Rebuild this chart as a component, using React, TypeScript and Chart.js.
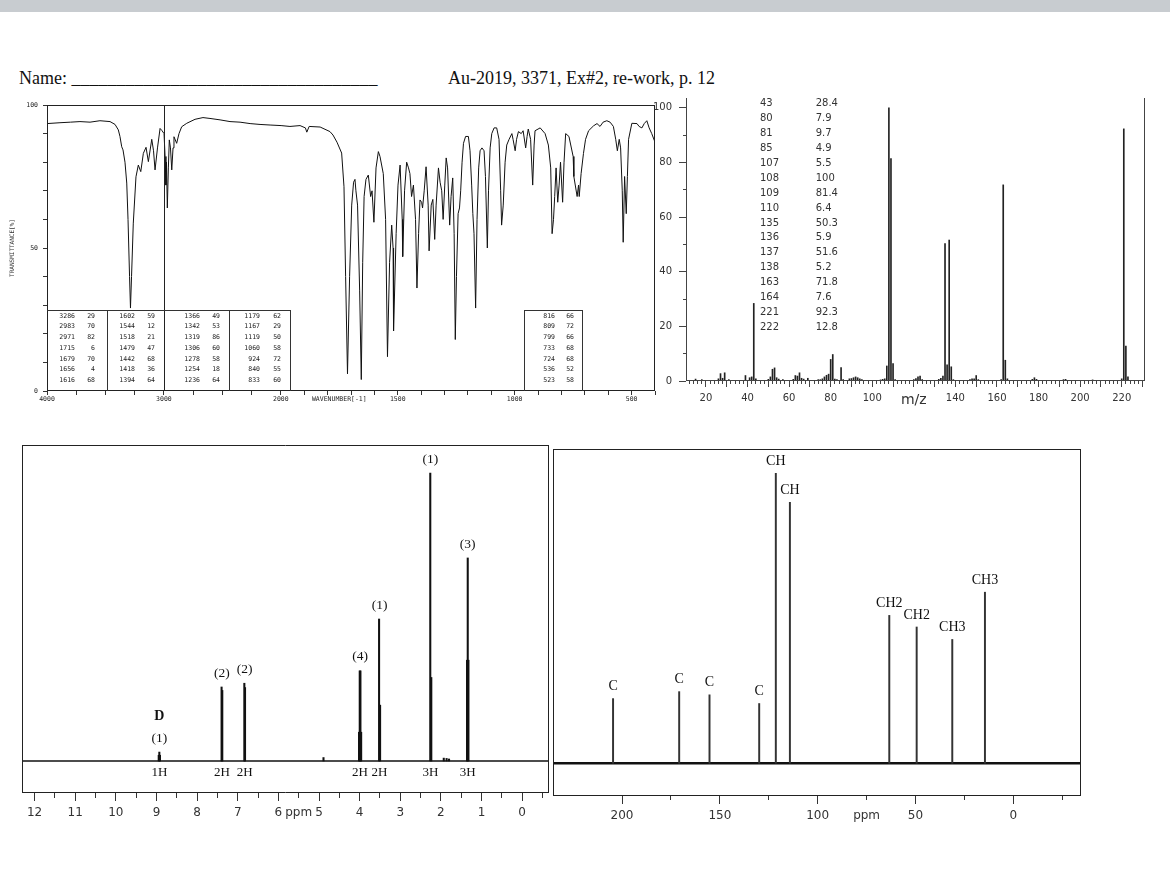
import React, { useEffect, useRef } from "react";
import { Chart, registerables } from "chart.js";

Chart.register(...registerables);

/* ================= IR spectrum ================= */
// [wavenumber (cm-1), transmittance (%)]
const irTrace: [number, number][] = [
  [4000, 93.5], [3889, 93.8], [3800, 94.0], [3718, 94.2], [3632, 94.0], [3547, 94.5], [3461, 94.2],
  [3418, 93.2], [3390, 91.3], [3376, 89], [3361, 85.4], [3350, 84.3], [3333, 80], [3318, 72.7],
  [3307, 60], [3294, 40], [3286, 29], [3277, 40], [3262, 58.7], [3239, 74.9], [3219, 79], [3198, 76.7],
  [3176, 83.1], [3153, 85.2], [3133, 80.2], [3104, 88], [3089, 84], [3076, 77.3], [3055, 85],
  [3033, 91.8], [3016, 91], [2999, 90], [2990, 82], [2983, 72], [2978, 80], [2971, 64], [2962, 78],
  [2954, 87.8], [2944, 85], [2933, 77.3], [2922, 85], [2914, 88.9], [2891, 86.6], [2871, 90],
  [2848, 92.4], [2805, 93.6], [2734, 95], [2666, 95.6], [2606, 95.3], [2520, 94.8], [2435, 94.2],
  [2349, 94.0], [2263, 93.5], [2178, 93.2], [2092, 93], [1999, 92.8], [1961, 92.5], [1918, 92.8],
  [1895, 92], [1889, 90.5], [1879, 92.5], [1832, 92.3], [1790, 90.7], [1777, 89.5], [1760, 87],
  [1740, 83.2], [1730, 71.4], [1723, 40], [1715, 6], [1706, 40], [1697, 65], [1689, 73], [1683, 74],
  [1679, 70], [1672, 65], [1663, 35], [1656, 4], [1650, 45], [1644, 68], [1636, 74], [1626, 75.5],
  [1616, 68], [1610, 70], [1602, 59], [1593, 78], [1583, 83.7], [1576, 82], [1562, 76], [1552, 60],
  [1544, 12], [1535, 45], [1526, 58], [1520, 50], [1518, 21], [1507, 55], [1499, 72], [1490, 79],
  [1481, 60], [1479, 47], [1471, 70], [1462, 80], [1454, 78], [1448, 76], [1441, 68], [1433, 72],
  [1424, 60], [1418, 36], [1411, 55], [1405, 66.8], [1398, 66], [1394, 64], [1387, 70], [1379, 78.4],
  [1370, 65], [1366, 49], [1357, 65], [1350, 67], [1342, 53], [1336, 65], [1326, 78], [1319, 73],
  [1312, 70], [1306, 60], [1299, 72], [1293, 81.5], [1287, 78], [1278, 58], [1272, 68], [1265, 74.5],
  [1259, 55], [1254, 18], [1249, 40], [1242, 62], [1236, 64], [1231, 70], [1225, 80], [1219, 86.6],
  [1210, 89], [1198, 89], [1191, 84], [1184, 72], [1179, 62], [1174, 55], [1167, 29], [1161, 60],
  [1154, 78], [1148, 84], [1140, 85], [1131, 84], [1125, 75], [1117, 50], [1112, 70], [1105, 85],
  [1098, 90], [1088, 92], [1077, 92], [1067, 88], [1060, 70], [1056, 58], [1049, 65], [1041, 80],
  [1034, 86], [1024, 88], [1012, 90], [1007, 88], [998, 84], [992, 88], [984, 90.7], [972, 90],
  [964, 91], [953, 85], [947, 89], [942, 91.6], [932, 88], [923, 72], [917, 86], [913, 91], [891, 92],
  [870, 90], [856, 86], [846, 78], [840, 55], [834, 60], [829, 68], [823, 78], [816, 66], [810, 72],
  [804, 80], [795, 66], [789, 80], [782, 90], [768, 89], [750, 82], [747, 75], [733, 68], [727, 72],
  [724, 68], [716, 76], [706, 83], [697, 88], [684, 91], [663, 92.7], [648, 93.5], [635, 92.5],
  [622, 94], [606, 94.5], [592, 94], [578, 92.5], [568, 88], [561, 84], [553, 88], [547, 85],
  [540, 70], [536, 52], [530, 75], [523, 62], [518, 75], [513, 88], [499, 93.6], [477, 93.5],
  [468, 92.5], [456, 92], [446, 93.5], [435, 94.5], [425, 92], [414, 90], [400, 87],
];
const irPeakWavenumber = [
  3286, 2983, 2971, 1715, 1679, 1656, 1616,
  1602, 1544, 1518, 1479, 1442, 1418, 1394,
  1366, 1342, 1319, 1306, 1278, 1254, 1236,
  1179, 1167, 1119, 1060, 924, 840, 833,
  816, 809, 799, 733, 724, 536, 523,
];
const irPeakTransmittance = [
  29, 70, 82, 6, 70, 4, 68,
  59, 12, 21, 47, 68, 36, 64,
  49, 53, 86, 60, 58, 18, 64,
  62, 29, 50, 58, 72, 55, 60,
  66, 72, 66, 68, 68, 52, 58,
];
const irCursorWavenumber = 3000;
const irLabeledWavenumbers = [4000, 3000, 2000, 1500, 1000, 500];
const irAxisTitle = "WAVENUMBER[-1]";
const irAxisTitleWavenumber = 1750;
const irYTitle = "TRANSMITTANCE[%]";

/* ================= Mass spectrum ================= */
const msListMz = [43, 80, 81, 85, 107, 108, 109, 110, 135, 136, 137, 138, 163, 164, 221, 222];
const msListIntensity = [28.4, 7.9, 9.7, 4.9, 5.5, 100, 81.4, 6.4, 50.3, 5.9, 51.6, 5.2, 71.8, 7.6, 92.3, 12.8];
const msMinorMz = [
  15, 18, 26, 27, 28, 29, 31, 39, 41, 42, 44, 50, 51, 52, 53, 54, 55, 57, 62, 63, 64, 65, 66, 67, 69,
  74, 75, 76, 77, 78, 79, 82, 83, 86, 89, 90, 91, 92, 93, 94, 95, 104, 105, 106, 111, 120, 121, 122,
  123, 124, 132, 133, 134, 139, 147, 148, 149, 150, 151, 162, 165, 177, 178, 179, 192, 193, 206, 220, 223,
];
const msMinorIntensity = [
  0.7, 0.5, 0.8, 2.7, 1.0, 3.0, 0.5, 2.0, 1.2, 1.5, 0.8, 0.6, 1.5, 4.3, 4.8, 1.2, 0.7, 0.5, 0.6, 2.0,
  1.8, 3.0, 1.0, 0.7, 1.0, 0.5, 0.5, 0.8, 1.5, 2.1, 2.5, 0.7, 0.5, 0.5, 0.8, 0.9, 1.2, 1.5, 1.2, 0.8,
  0.5, 0.4, 0.6, 0.8, 0.5, 0.5, 0.9, 1.5, 1.8, 0.5, 0.6, 1.0, 1.8, 0.5, 0.5, 0.8, 0.8, 2.0, 0.5, 0.5,
  0.8, 0.6, 1.2, 0.6, 0.5, 0.6, 0.4, 0.8, 1.5,
];
const msAxisTitle = "m/z";
const msAxisTitleMz = 120;

/* ================= 1H NMR ================= */
const hLinePpm = [
  8.945, 8.93, 8.915, 7.398, 7.381, 6.838, 6.821, 4.89, 4.016, 3.998, 3.981, 3.963, 3.522, 3.497,
  2.262, 2.237, 1.93, 1.86, 1.8, 1.357, 1.34, 1.323,
];
const hLineHeight = [
  2.0, 3.1, 2.0, 25.7, 24.5, 27, 25.5, 1.2, 10, 31.3, 31.3, 10, 49.3, 19.4,
  100, 29, 1.0, 0.9, 0.7, 35, 70.5, 35,
];
const hSweepPpm = [12.3, -0.65];
const hGroupPpm = [8.93, 7.39, 6.83, 3.99, 3.51, 2.26, 1.34];
const hGroupMultiplicity = ["(1)", "(2)", "(2)", "(4)", "(1)", "(1)", "(3)"];
const hGroupIntegral = ["1H", "2H", "2H", "2H", "2H", "3H", "3H"];
const hExchangeLabel = "D";
const hExchangeGroup = 0;

/* ================= 13C NMR ================= */
const cPpm = [204.6, 170.8, 155.3, 129.9, 121.4, 114.2, 63.4, 49.4, 31.2, 14.5];
const cIntensity = [22.3, 24.7, 23.6, 20.6, 100, 90, 51, 47, 42.7, 59];
const cType = ["C", "C", "C", "C", "CH", "CH", "CH2", "CH2", "CH3", "CH3"];
const cSweepPpm = [235, -34.5];

/* ================= helpers ================= */
const irPos = (w: number) => (w >= 2000 ? 4000 - w : 2000 + (2000 - w) * 2);
const irWn = (p: number) => (p <= 2000 ? 4000 - p : 2000 - (p - 2000) / 2);
const steps = (from: number, to: number, step: number) => {
  const out: number[] = [];
  for (let v = from; v <= to + 1e-9; v += step) out.push(Math.round(v * 1000) / 1000);
  return out;
};
const near = (a: number, b: number) => Math.abs(a - b) < 1e-6;

const ticksAt = (values: number[]) => (scale: any) => {
  scale.ticks = [...values].sort((a, b) => a - b).map((v) => ({ value: v }));
};

function axis(o: any) {
  const horizontal = o.position === "bottom";
  return {
    type: "linear",
    position: o.position,
    weight: o.weight ?? 0,
    display: true,
    min: o.min,
    max: o.max,
    reverse: !!o.reverse,
    bounds: "data",
    offset: false,
    afterBuildTicks: ticksAt(o.ticks),
    afterFit: (s: any) => {
      if (horizontal) s.height = o.size;
      else s.width = o.size;
    },
    border: { display: false },
    grid: {
      display: true,
      drawOnChartArea: false,
      drawTicks: true,
      tickLength: o.tickLength,
      offset: false,
      tickWidth: 1,
      tickColor: (c: any) =>
        o.hideTick && c.tick && o.hideTick(c.tick.value) ? "rgba(0,0,0,0)" : o.color || "#333",
    },
    ticks: {
      display: !!o.label,
      autoSkip: false,
      maxRotation: 0,
      minRotation: 0,
      padding: o.padding ?? 4,
      color: o.textColor || "#333",
      font: o.font || { family: "DejaVu Sans", size: 10 },
      callback: (v: number) => (o.label ? o.label(v) : ""),
    },
    title: o.title || { display: false },
  };
}

function framePlugin(sides: string[], color: string) {
  return {
    id: "frame",
    afterDraw(chart: any) {
      const a = chart.chartArea;
      const ctx = chart.ctx;
      const L = Math.round(a.left) + 0.5;
      const R = Math.round(a.right) - 0.5;
      const T = Math.round(a.top) + 0.5;
      const B = Math.round(a.bottom) - 0.5;
      ctx.save();
      ctx.strokeStyle = color;
      ctx.lineWidth = 1;
      ctx.beginPath();
      if (sides.includes("top")) { ctx.moveTo(L - 0.5, T); ctx.lineTo(R + 0.5, T); }
      if (sides.includes("bottom")) { ctx.moveTo(L - 0.5, B); ctx.lineTo(R + 0.5, B); }
      if (sides.includes("left")) { ctx.moveTo(L, T - 0.5); ctx.lineTo(L, B + 0.5); }
      if (sides.includes("right")) { ctx.moveTo(R, T - 0.5); ctx.lineTo(R, B + 0.5); }
      ctx.stroke();
      ctx.restore();
    },
  };
}

function vlinePlugin(value: number, color: string) {
  return {
    id: "vline",
    afterDatasetsDraw(chart: any) {
      const a = chart.chartArea;
      const ctx = chart.ctx;
      const x = Math.round(chart.scales.x.getPixelForValue(value)) + 0.5;
      ctx.save();
      ctx.strokeStyle = color;
      ctx.lineWidth = 1;
      ctx.beginPath();
      ctx.moveTo(x, a.top);
      ctx.lineTo(x, a.bottom);
      ctx.stroke();
      ctx.restore();
    },
  };
}

type TextItem = { x: number; y: number; dy: number; text: string; font: string };
function textPlugin(items: TextItem[]) {
  return {
    id: "peakText",
    afterDatasetsDraw(chart: any) {
      const ctx = chart.ctx;
      const xs = chart.scales.x;
      const ys = chart.scales.y;
      ctx.save();
      ctx.fillStyle = "#111";
      ctx.textAlign = "center";
      ctx.textBaseline = "middle";
      for (const it of items) {
        ctx.font = it.font;
        ctx.fillText(it.text, xs.getPixelForValue(it.x), ys.getPixelForValue(it.y) + it.dy);
      }
      ctx.restore();
    },
  };
}

const baseOptions = (padding: any) => ({
  animation: false,
  responsive: false,
  maintainAspectRatio: false,
  devicePixelRatio: 1,
  events: [],
  layout: { padding },
  plugins: { legend: { display: false }, tooltip: { enabled: false }, title: { display: false } },
});

/* ================= chart builders ================= */
function buildIR() {
  const pts = irTrace.map(([w, t]) => ({ x: irPos(w), y: t }));
  const tickW = [...steps(2000, 4000, 250), ...steps(400, 1900, 100), irAxisTitleWavenumber];
  const monoFont = { family: "DejaVu Sans Mono", size: 6.5 };
  return {
    type: "line",
    data: {
      datasets: [
        { data: pts, borderColor: "#111", borderWidth: 1, pointRadius: 0, tension: 0, fill: false },
      ],
    },
    options: {
      ...baseOptions({ top: 10, right: 7, left: 0, bottom: 0 }),
      scales: {
        x: axis({
          position: "bottom", min: 0, max: 5200, size: 24, tickLength: 4, padding: 0,
          ticks: tickW.map(irPos), font: monoFont, textColor: "#222",
          hideTick: (v: number) => near(Math.round(irWn(v)), irAxisTitleWavenumber),
          label: (v: number) => {
            const w = Math.round(irWn(v));
            if (w === irAxisTitleWavenumber) return irAxisTitle;
            return irLabeledWavenumbers.includes(w) ? String(w) : "";
          },
        }),
        y: axis({
          position: "left", min: 0, max: 100, size: 47, tickLength: 4, padding: 5,
          ticks: steps(0, 100, 10), font: monoFont, textColor: "#222",
          label: (v: number) => (v % 50 === 0 ? String(v) : ""),
          title: {
            display: true, text: irYTitle, color: "#333",
            font: { family: "DejaVu Sans Mono", size: 6 }, padding: { top: 9, bottom: 0 },
          },
        }),
      },
    },
    plugins: [framePlugin(["top", "bottom", "left", "right"], "#222"), vlinePlugin(irPos(irCursorWavenumber), "#222")],
  };
}

function buildMS() {
  const bars = [
    ...msMinorMz.map((m, i) => ({ x: m, y: msMinorIntensity[i] })),
    ...msListMz.map((m, i) => ({ x: m, y: msListIntensity[i] })),
  ];
  return {
    type: "bar",
    data: {
      datasets: [{ data: bars, backgroundColor: "#222", barThickness: 1, grouped: false }],
    },
    options: {
      ...baseOptions({ top: 5, right: 7, left: 0, bottom: 0 }),
      scales: {
        xm: axis({ position: "bottom", weight: 0, min: 10.4, max: 231.2, size: 0, tickLength: 3, ticks: steps(12, 230, 2), color: "#444" }),
        x: axis({
          position: "bottom", weight: 1, min: 10.4, max: 231.2, size: 29, tickLength: 6, padding: 5,
          ticks: steps(20, 230, 10), color: "#444", textColor: "#333",
          font: (c: any) => ({ family: "DejaVu Sans", size: c.tick && c.tick.value === msAxisTitleMz ? 14 : 10 }),
          label: (v: number) => (v === msAxisTitleMz ? msAxisTitle : v % 20 === 0 ? String(v) : ""),
        }),
        ym: axis({ position: "left", weight: 0, min: 0, max: 103.6, size: 0, tickLength: 3, ticks: steps(10, 90, 20), color: "#444" }),
        y: axis({
          position: "left", weight: 1, min: 0, max: 103.6, size: 46, tickLength: 7, padding: 7,
          ticks: steps(0, 100, 20), color: "#444", textColor: "#333",
          font: { family: "DejaVu Sans", size: 10 },
          label: (v: number) => String(v),
        }),
      },
    },
    plugins: [framePlugin(["left", "right", "bottom"], "#444")],
  };
}

function buildH() {
  const lines = hLinePpm.map((p, i) => ({ x: p, y: hLineHeight[i] }));
  const baseline = hSweepPpm.map((p) => ({ x: p, y: 0 }));
  const items: TextItem[] = [];
  hGroupPpm.forEach((g, i) => {
    const top = Math.max(...hLinePpm.map((p, j) => (Math.abs(p - g) < 0.05 ? hLineHeight[j] : 0)));
    items.push({ x: g, y: top, dy: -14, text: hGroupMultiplicity[i], font: "13.5px 'Liberation Serif'" });
    items.push({ x: g, y: 0, dy: 12, text: hGroupIntegral[i], font: "13px 'Liberation Serif'" });
    if (i === hExchangeGroup) items.push({ x: g, y: top, dy: -36, text: hExchangeLabel, font: "bold 14px 'Liberation Serif'" });
  });
  const tickFont = { family: "DejaVu Sans", size: 12 };
  return {
    type: "bar",
    data: {
      datasets: [
        { type: "bar", data: lines, backgroundColor: "#111", barThickness: 1.4, grouped: false },
        { type: "line", data: baseline, borderColor: "#111", borderWidth: 1.5, pointRadius: 0, tension: 0 },
      ],
    },
    options: {
      ...baseOptions({ top: 2, right: 3, left: 2, bottom: 0 }),
      scales: {
        xm: axis({ position: "bottom", weight: 0, min: -0.66, max: 12.31, reverse: true, size: 0, tickLength: 5, ticks: steps(-0.5, 12, 0.5) }),
        x: axis({
          position: "bottom", weight: 1, min: -0.66, max: 12.31, reverse: true, size: 35, tickLength: 8, padding: 5,
          ticks: [...steps(0, 12, 1), 5.5], font: tickFont, textColor: "#333",
          hideTick: (v: number) => near(v, 5.5),
          label: (v: number) => (near(v, 5.5) ? "ppm" : Number.isInteger(v) ? String(v) : ""),
        }),
        y: { type: "linear", display: false, min: -11.11, max: 109.72, bounds: "data" },
      },
    },
    plugins: [framePlugin(["top", "bottom", "left", "right"], "#222"), textPlugin(items)],
  };
}

function buildC() {
  const lines = cPpm.map((p, i) => ({ x: p, y: cIntensity[i] }));
  const baseline = cSweepPpm.map((p) => ({ x: p, y: 0 }));
  const items: TextItem[] = cPpm.map((p, i) => ({
    x: p, y: cIntensity[i], dy: -12, text: cType[i], font: "14px 'Liberation Serif'",
  }));
  const tickFont = { family: "DejaVu Sans", size: 12 };
  return {
    type: "bar",
    data: {
      datasets: [
        { type: "bar", data: lines, backgroundColor: "#333", barThickness: 1.3, grouped: false },
        { type: "line", data: baseline, borderColor: "#111", borderWidth: 2.5, pointRadius: 0, tension: 0 },
      ],
    },
    options: {
      ...baseOptions({ top: 2, right: 2, left: 2, bottom: 0 }),
      scales: {
        xm: axis({ position: "bottom", weight: 0, min: -34.6, max: 235.3, reverse: true, size: 0, tickLength: 4, ticks: steps(-25, 200, 25) }),
        x: axis({
          position: "bottom", weight: 1, min: -34.6, max: 235.3, reverse: true, size: 36, tickLength: 8, padding: 5,
          ticks: [...steps(0, 200, 50), 75], font: tickFont, textColor: "#333",
          hideTick: (v: number) => near(v, 75),
          label: (v: number) => (near(v, 75) ? "ppm" : String(v)),
        }),
        y: { type: "linear", display: false, min: -11.3, max: 108.4, bounds: "data" },
      },
    },
    plugins: [framePlugin(["top", "bottom", "left", "right"], "#222"), textPlugin(items)],
  };
}

/* ================= components ================= */
function ChartBox({ left, top, width, height, build }: any) {
  const ref = useRef<HTMLCanvasElement | null>(null);
  useEffect(() => {
    if (!ref.current) return;
    const chart = new Chart(ref.current, build());
    return () => chart.destroy();
  }, [build]);
  return (
    <canvas
      ref={ref}
      width={width}
      height={height}
      style={{ position: "absolute", left, top, width, height, display: "block" }}
    />
  );
}

const mono: React.CSSProperties = {
  position: "absolute",
  font: "6.5px 'DejaVu Sans Mono'",
  lineHeight: "8px",
  color: "#222",
  textAlign: "right",
  width: 30,
  whiteSpace: "pre",
};

function IrTables() {
  const cells: React.ReactNode[] = [];
  const wnRight = [75, 135, 200, 260, 555];
  const tRight = [95, 155, 220, 281, 574];
  irPeakWavenumber.forEach((w, i) => {
    const col = Math.floor(i / 7);
    const row = i % 7;
    const cy = 315.7 + row * 10.7;
    cells.push(
      <div key={"w" + i} style={{ ...mono, left: wnRight[col] - 30, top: cy - 4 }}>{String(w)}</div>,
      <div key={"t" + i} style={{ ...mono, left: tRight[col] - 30, top: cy - 4 }}>{String(irPeakTransmittance[i])}</div>
    );
  });
  const line = (l: number, t: number, w: number, h: number, k: string) => (
    <div key={k} style={{ position: "absolute", left: l, top: t, width: w, height: h, background: "#333" }} />
  );
  return (
    <>
      {line(47, 310, 244, 1, "t1")}
      {line(290, 310, 1, 81, "r1")}
      {line(107, 310, 1, 81, "d1")}
      {line(229, 310, 1, 81, "d3")}
      {line(524, 310, 59, 1, "t2")}
      {line(524, 310, 1, 81, "l2")}
      {line(582, 310, 1, 81, "r2")}
      {cells}
    </>
  );
}

function MsTable() {
  return (
    <>
      {msListMz.map((m, i) => {
        const cy = 103.3 + i * 14.9;
        const st: React.CSSProperties = {
          position: "absolute", top: cy - 6, font: "10px 'DejaVu Sans'", lineHeight: "12px", color: "#333", whiteSpace: "pre",
        };
        return (
          <React.Fragment key={i}>
            <div style={{ ...st, left: 760 }}>{String(m)}</div>
            <div style={{ ...st, left: 815.7 }}>{String(msListIntensity[i])}</div>
          </React.Fragment>
        );
      })}
    </>
  );
}

export default function App() {
  return (
    <div
      style={{
        position: "absolute", left: 0, top: 0, width: 1170, height: 876, background: "#fff", overflow: "hidden",
      }}
    >
      <div style={{ position: "absolute", left: 0, top: 0, width: 1170, height: 12, background: "#c8ccd0" }} />
      <div style={{ position: "absolute", left: 19, top: 69, font: "18px 'Liberation Serif'", lineHeight: "18px", whiteSpace: "pre", color: "#111" }}>
        {"Name: __________________________________"}
      </div>
      <div style={{ position: "absolute", left: 448, top: 69, font: "18px 'Liberation Serif'", lineHeight: "18px", whiteSpace: "pre", color: "#111" }}>
        {"Au-2019, 3371, Ex#2, re-work, p. 12"}
      </div>
      <ChartBox left={0} top={95} width={662} height={320} build={buildIR} />
      <IrTables />
      <ChartBox left={640} top={85} width={512} height={325} build={buildMS} />
      <MsTable />
      <ChartBox left={20} top={443} width={532} height={385} build={buildH} />
      <ChartBox left={551} top={447} width={532} height={385} build={buildC} />
    </div>
  );
}
